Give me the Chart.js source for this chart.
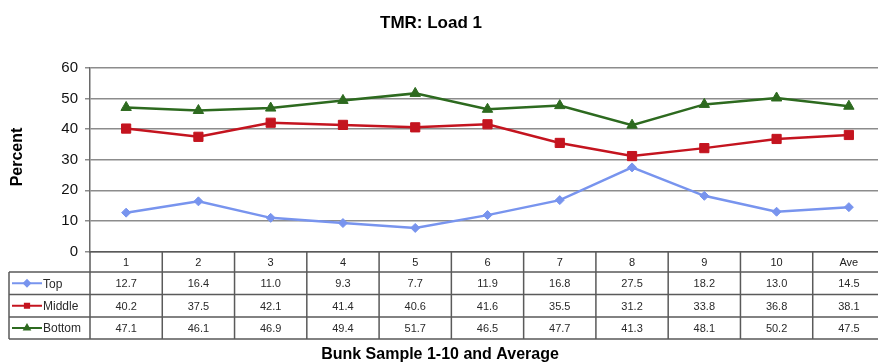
<!DOCTYPE html>
<html>
<head>
<meta charset="utf-8">
<script src="https://cdn.jsdelivr.net/npm/chart.js@4/dist/chart.umd.min.js"></script>
<style>
  html, body { margin: 0; padding: 0; background: #fff; overflow: hidden; }
  #wrap { width: 878px; height: 362px; overflow: hidden; }
  canvas { display: block; }
</style>
</head>
<body>
<div id="wrap"><canvas id="c" width="900" height="362"></canvas></div>
<script>
// Bunk samples 1-10 plus the average, percent of TMR retained per sieve layer
const categories = ['1', '2', '3', '4', '5', '6', '7', '8', '9', '10', 'Ave'];
const topValues = [12.7, 16.4, 11.0, 9.3, 7.7, 11.9, 16.8, 27.5, 18.2, 13.0, 14.5];
const middleValues = [40.2, 37.5, 42.1, 41.4, 40.6, 41.6, 35.5, 31.2, 33.8, 36.8, 38.1];
const bottomValues = [47.1, 46.1, 46.9, 49.4, 51.7, 46.5, 47.7, 41.3, 48.1, 50.2, 47.5];
const seriesNames = ['Top', 'Middle', 'Bottom'];
const yTicks = [0, 10, 20, 30, 40, 50, 60];

const chartTitle = 'TMR: Load 1';
const xTitle = 'Bunk Sample 1-10 and Average';
const yTitle = 'Percent';

const colors = ['#7894ee', '#c4141f', '#2d6a1f'];
const markers = ['rectRot', 'rect', 'triangle'];
const markerSizes = [4.5, 6.5, 6];

const FONT = '"Liberation Sans", Arial, sans-serif';

// Draws the titles and the data table underneath the plot
const tablePlugin = {
  id: 'dataTable',
  afterDraw(chart) {
    const ctx = chart.ctx;
    const area = chart.chartArea;
    const x = chart.scales.x;
    const n = categories.length;
    const colW = (area.right - area.left) / n;
    const rowTops = [area.bottom, 272, 294.5, 317, 339];
    const legendLeft = 9;
    const rows = [topValues, middleValues, bottomValues];

    ctx.save();
    // titles
    ctx.fillStyle = '#000';
    ctx.textAlign = 'center';
    ctx.textBaseline = 'middle';
    ctx.font = 'bold 17px ' + FONT;
    ctx.fillText(chartTitle, 431, 23);
    ctx.font = 'bold 16px ' + FONT;
    ctx.fillText(xTitle, 440, 355);
    ctx.save();
    ctx.translate(18, 157);
    ctx.rotate(-Math.PI / 2);
    ctx.fillText(yTitle, 0, 0);
    ctx.restore();

    // table grid
    ctx.strokeStyle = '#5a5a5a';
    ctx.lineWidth = 1.5;
    ctx.beginPath();
    for (let r = 1; r < rowTops.length; r++) {
      ctx.moveTo(legendLeft, rowTops[r]);
      ctx.lineTo(area.right, rowTops[r]);
    }
    ctx.moveTo(legendLeft, rowTops[1]);
    ctx.lineTo(legendLeft, rowTops[4]);
    for (let i = 0; i <= n; i++) {
      const bx = area.left + i * colW;
      ctx.moveTo(bx, rowTops[0]);
      ctx.lineTo(bx, rowTops[4]);
    }
    ctx.stroke();

    // header labels
    ctx.fillStyle = '#222';
    ctx.font = '11px ' + FONT;
    categories.forEach((c, i) => {
      ctx.fillText(c, x.getPixelForValue(i), (rowTops[0] + rowTops[1]) / 2 + 1);
    });

    // rows
    rows.forEach((vals, r) => {
      const cy = (rowTops[r + 1] + rowTops[r + 2]) / 2 + 1;
      ctx.fillStyle = '#2a2a2a';
      ctx.font = '11px ' + FONT;
      ctx.textAlign = 'center';
      vals.forEach((v, i) => {
        ctx.fillText(v.toFixed(1), x.getPixelForValue(i), cy);
      });
      // legend key
      ctx.strokeStyle = colors[r];
      ctx.lineWidth = 2;
      ctx.beginPath();
      ctx.moveTo(12, cy - 1);
      ctx.lineTo(42, cy - 1);
      ctx.stroke();
      ctx.fillStyle = colors[r];
      Chart.helpers.drawPoint(ctx, {
        pointStyle: markers[r], radius: 3, rotation: 0, borderWidth: 1
      }, 27, cy - 1);
      ctx.fillStyle = '#2a2a2a';
      ctx.textAlign = 'left';
      ctx.font = '12px ' + FONT;
      ctx.fillText(seriesNames[r], 43, cy);
    });
    ctx.restore();
  }
};

const datasets = [topValues, middleValues, bottomValues].map((vals, i) => ({
  label: seriesNames[i],
  data: vals,
  borderColor: colors[i],
  backgroundColor: colors[i],
  borderWidth: 2.5,
  pointStyle: markers[i],
  pointRadius: markerSizes[i],
  pointHoverRadius: markerSizes[i],
  pointBorderWidth: 1,
  tension: 0
}));

new Chart(document.getElementById('c'), {
  type: 'line',
  data: { labels: categories, datasets },
  options: {
    responsive: false,
    devicePixelRatio: 1,
    animation: false,
    layout: { padding: { top: 68, right: 15, bottom: 110.5, left: 0 } },
    plugins: { legend: { display: false }, title: { display: false }, tooltip: { enabled: false } },
    scales: {
      x: {
        type: 'category',
        offset: true,
        grid: { display: false },
        ticks: { display: false },
        border: { display: true, color: '#5a5a5a', width: 1.5 },
        afterFit(scale) { scale.height = 0; }
      },
      y: {
        min: 0,
        max: 60,
        afterBuildTicks(scale) { scale.ticks = yTicks.map(v => ({ value: v })); },
        ticks: {
          color: '#111',
          padding: 7,
          font: { family: FONT, size: 15 }
        },
        grid: { color: '#8c8c8c', lineWidth: 1.5, tickLength: 5, drawTicks: true },
        border: { display: true, color: '#6a6a6a', width: 1.5 },
        afterFit(scale) { scale.width = 90; }
      }
    }
  },
  plugins: [tablePlugin]
});
</script>
</body>
</html>
